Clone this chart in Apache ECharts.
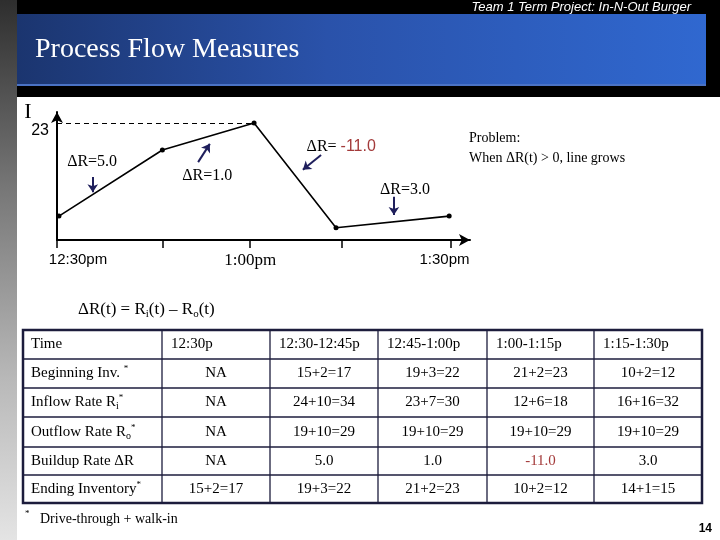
<!DOCTYPE html>
<html>
<head>
<meta charset="utf-8">
<script src="https://cdn.jsdelivr.net/npm/echarts@6/dist/echarts.min.js"></script>
<style>
html,body{margin:0;padding:0;background:#fff;}
#c{width:720px;height:540px;}
</style>
</head>
<body>
<div id="c"></div>
<script>
// ---------- data ----------
const tickMinutes = [0, 16.2, 29.7, 43.8, 60.5];          // axis ticks (minutes after 12:30)
const labelMinutes = [0, 29.7, 60.5];
const timeLabels = ['12:30pm', '1:00pm', '1:30pm'];
const pointMinutes = [0.3, 16.2, 30.3, 42.9, 60.3];       // sketch point positions
const inventoryDrawn = [4.7, 17.7, 23, 2.4, 4.7];          // sketch inventory heights
const peakLevel = 23;

const annoX = [5.4, 23.1, 43.7, 53.5];
const annoY = [15.3, 12.6, 18.3, 9.8];
const annoText = ['ΔR=5.0', 'ΔR=1.0', '{b|ΔR= }{r|-11.0}', 'ΔR=3.0'];
const arrowFrom = [[5.5, 12.4], [21.7, 15.3], [40.6, 16.7], [51.8, 8.5]];
const arrowTo   = [[5.5, 9.4], [23.5, 18.9], [37.8, 13.8], [51.8, 4.9]];

const colHeads = ['Time', '12:30p', '12:30-12:45p', '12:45-1:00p', '1:00-1:15p', '1:15-1:30p'];
const rowHeads = ['Beginning Inv. {sup|*}', 'Inflow Rate R{sub|i}{sup|*}', 'Outflow Rate R{sub|o}{sup|*}', 'Buildup Rate ΔR', 'Ending Inventory{sup|*}'];
const beginInv = ['NA', '15+2=17', '19+3=22', '21+2=23', '10+2=12'];
const inflow   = ['NA', '24+10=34', '23+7=30', '12+6=18', '16+16=32'];
const outflow  = ['NA', '19+10=29', '19+10=29', '19+10=29', '19+10=29'];
const buildup  = ['NA', '5.0', '1.0', '-11.0', '3.0'];
const endInv   = ['15+2=17', '19+3=22', '21+2=23', '10+2=12', '14+1=15'];

// ---------- layout / style ----------
const SERIF = '"Liberation Serif","Times New Roman",serif';
const SANS = '"Liberation Sans",Arial,sans-serif';
const colEdges = [23, 162, 270, 378, 487, 594, 702];
const rowEdges = [330, 359, 388, 417, 447, 475, 503];
const lineColor = '#1c1c3c';
const redText = '#a33a3a';
const arrowColor = '#1f1f5c';

const richSubSup = {
  sub: {fontSize: 10, lineHeight: 10, verticalAlign: 'bottom', fontFamily: SERIF, fill: '#000', color: '#000'},
  sup: {fontSize: 9, lineHeight: 9, verticalAlign: 'top', fontFamily: SERIF, fill: '#000', color: '#000'}
};

const graphics = [];
// left strip
graphics.push({type: 'rect', shape: {x: 0, y: 0, width: 17, height: 540}, silent: true,
  style: {fill: new echarts.graphic.LinearGradient(0, 0, 0, 1, [
    {offset: 0, color: '#2e2e2e'}, {offset: 0.35, color: '#777777'}, {offset: 0.7, color: '#b8b8b8'}, {offset: 1, color: '#e4e4e4'}])}});
// top black band
graphics.push({type: 'rect', shape: {x: 17, y: 0, width: 703, height: 97}, silent: true, style: {fill: '#000'}});
// blue title bar
graphics.push({type: 'rect', shape: {x: 17, y: 14, width: 689, height: 72}, silent: true,
  style: {fill: new echarts.graphic.LinearGradient(0, 0, 1, 0, [
    {offset: 0, color: '#1b356f'}, {offset: 0.45, color: '#2a52aa'}, {offset: 1, color: '#3068d0'}])}});
graphics.push({type: 'rect', shape: {x: 17, y: 84, width: 689, height: 2}, silent: true, style: {fill: '#4a72c4'}});
graphics.push({type: 'text', x: 35, y: 50, silent: true,
  style: {text: 'Process Flow Measures', fill: '#fff', font: '28px ' + SERIF, verticalAlign: 'middle'}});
graphics.push({type: 'text', x: 691, y: 7, silent: true,
  style: {text: 'Team 1 Term Project: In-N-Out Burger', fill: '#fff', font: 'italic 13px ' + SANS, align: 'right', verticalAlign: 'middle'}});

// problem note
graphics.push({type: 'text', x: 469, y: 138, silent: true,
  style: {text: 'Problem:', fill: '#000', font: '14px ' + SERIF, verticalAlign: 'middle'}});
graphics.push({type: 'text', x: 469, y: 158, silent: true,
  style: {text: 'When ΔR(t) > 0, line grows', fill: '#000', font: '14px ' + SERIF, verticalAlign: 'middle'}});

// formula
graphics.push({type: 'text', x: 78, y: 310, silent: true,
  style: {text: 'ΔR(t) = R{sub|i}(t) – R{sub|o}(t)', fill: '#000', font: '17px ' + SERIF, lineHeight: 20, verticalAlign: 'middle',
    rich: {sub: {fontSize: 11, lineHeight: 11, verticalAlign: 'bottom', fontFamily: SERIF, fill: '#000'}}}});

// table
const tableRows = [beginInv, inflow, outflow, buildup, endInv];
graphics.push({type: 'rect', shape: {x: colEdges[0], y: rowEdges[0], width: colEdges[6] - colEdges[0], height: rowEdges[6] - rowEdges[0]},
  silent: true, style: {fill: 'none', stroke: lineColor, lineWidth: 2.5}});
for (let i = 1; i < colEdges.length - 1; i++) {
  graphics.push({type: 'line', silent: true, shape: {x1: colEdges[i], y1: rowEdges[0], x2: colEdges[i], y2: rowEdges[6]}, style: {stroke: lineColor, lineWidth: 1.3}});
}
for (let j = 1; j < rowEdges.length - 1; j++) {
  graphics.push({type: 'line', silent: true, shape: {x1: colEdges[0], y1: rowEdges[j], x2: colEdges[6], y2: rowEdges[j]}, style: {stroke: lineColor, lineWidth: 1.3}});
}
colHeads.forEach((t, i) => {
  graphics.push({type: 'text', silent: true, x: colEdges[i] + (i === 0 ? 8 : 9), y: (rowEdges[0] + rowEdges[1]) / 2,
    style: {text: t, fill: '#000', font: '15px ' + SERIF, verticalAlign: 'middle'}});
});
rowHeads.forEach((t, r) => {
  graphics.push({type: 'text', silent: true, x: colEdges[0] + 8, y: (rowEdges[r + 1] + rowEdges[r + 2]) / 2,
    style: {text: t, fill: '#000', font: '15px ' + SERIF, lineHeight: 18, verticalAlign: 'middle', rich: richSubSup}});
  tableRows[r].forEach((v, c) => {
    graphics.push({type: 'text', silent: true, x: (colEdges[c + 1] + colEdges[c + 2]) / 2, y: (rowEdges[r + 1] + rowEdges[r + 2]) / 2,
      style: {text: v, fill: v.charAt(0) === '-' ? redText : '#000', font: '15px ' + SERIF, align: 'center', verticalAlign: 'middle'}});
  });
});
// footnote
graphics.push({type: 'text', x: 25, y: 514, silent: true, style: {text: '*', fill: '#000', font: '9px ' + SERIF, verticalAlign: 'middle'}});
graphics.push({type: 'text', x: 40, y: 519, silent: true, style: {text: 'Drive-through + walk-in', fill: '#000', font: '14px ' + SERIF, verticalAlign: 'middle'}});
// page number
graphics.push({type: 'text', x: 712, y: 529, silent: true, style: {text: '14', fill: '#000', font: 'bold 12px ' + SANS, align: 'right', verticalAlign: 'middle'}});

const chart = echarts.init(document.getElementById('c'), null, {renderer: 'canvas'});
chart.setOption({
  animation: false,
  backgroundColor: '#fff',
  grid: {left: 57, top: 112, width: 413, height: 128, outerBoundsMode: 'none', containLabel: false},
  xAxis: {
    type: 'value', min: 0, max: 63.5,
    splitLine: {show: false},
    axisLine: {show: true, symbol: ['none', 'arrow'], symbolSize: [9, 11], lineStyle: {color: '#000', width: 2}},
    axisTick: {show: true, customValues: tickMinutes, length: 8, lineStyle: {color: '#000', width: 1.5}},
    axisLabel: {
      show: true, customValues: labelMinutes, margin: 12, color: '#000',
      formatter: function (v) {
        const i = labelMinutes.indexOf(v);
        if (i === 0) return '{a|' + timeLabels[0] + '}';
        if (i === 1) return '{b|' + timeLabels[1] + '}';
        return '{c|' + timeLabels[2] + '}';
      },
      rich: {
        a: {fontFamily: SANS, fontSize: 15, color: '#000', padding: [0, 0, 0, 42]},
        b: {fontFamily: SERIF, fontSize: 17, color: '#000'},
        c: {fontFamily: SANS, fontSize: 15, color: '#000', padding: [0, 12, 0, 0]}
      }
    }
  },
  yAxis: {
    type: 'value', min: 0, max: 25.16,
    name: 'I', nameLocation: 'end', nameGap: 0,
    nameTextStyle: {fontFamily: SERIF, fontSize: 22, color: '#000', align: 'center', verticalAlign: 'middle', padding: [22, 58, 0, 0]},
    splitLine: {show: false},
    axisLine: {show: true, symbol: ['none', 'arrow'], symbolSize: [9, 11], lineStyle: {color: '#000', width: 2}},
    axisTick: {show: false},
    axisLabel: {show: true, customValues: [peakLevel], margin: 8, color: '#000', fontFamily: SANS, fontSize: 16, verticalAlign: 'top'}
  },
  series: [
    {
      type: 'line', data: pointMinutes.map((m, i) => [m, inventoryDrawn[i]]),
      symbol: 'circle', symbolSize: 5, itemStyle: {color: '#000'},
      lineStyle: {color: '#000', width: 1.6}, z: 5,
      markLine: {
        silent: true, symbol: ['none', 'none'], label: {show: false},
        lineStyle: {type: [5, 4], color: '#000', width: 1},
        data: [[{coord: [0, peakLevel]}, {coord: [pointMinutes[2], peakLevel]}]]
      }
    },
    {
      type: 'line', data: [], silent: true,
      markLine: {
        silent: true, symbol: ['none', 'arrow'], symbolSize: 8, label: {show: false},
        lineStyle: {type: 'solid', color: arrowColor, width: 2},
        data: arrowFrom.map((f, i) => [{coord: f}, {coord: arrowTo[i]}])
      },
      markPoint: {
        silent: true, symbol: 'circle', symbolSize: 0,
        label: {
          show: true, position: 'inside', color: '#000', fontFamily: SERIF, fontSize: 16,
          formatter: p => annoText[p.dataIndex],
          rich: {b: {fontFamily: SERIF, fontSize: 16, color: '#000'}, r: {fontFamily: SANS, fontSize: 16, color: redText}}
        },
        data: annoX.map((x, i) => ({coord: [x, annoY[i]], value: i}))
      }
    }
  ],
  graphic: graphics
});
</script>
</body>
</html>
